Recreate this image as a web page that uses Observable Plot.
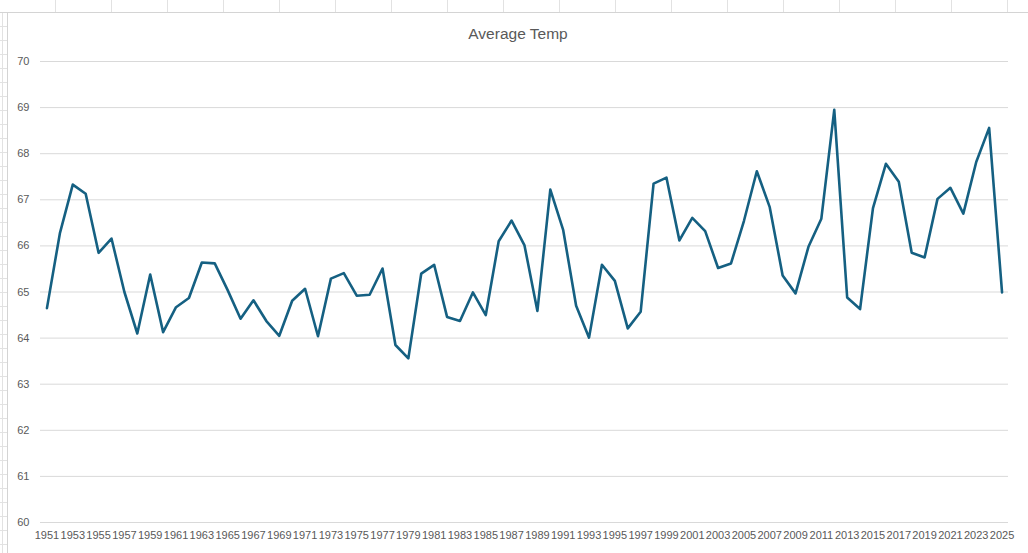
<!DOCTYPE html>
<html>
<head>
<meta charset="utf-8">
<script src="https://cdn.jsdelivr.net/npm/d3@7"></script>
<script src="https://cdn.jsdelivr.net/npm/@observablehq/plot@0.6"></script>
<style>
  html, body { margin: 0; padding: 0; background: #fff; }
  #page { position: relative; width: 1028px; height: 553px; overflow: hidden; background: #fff; }
  #topstrip {
    position: absolute; left: 0; top: 0; width: 1028px; height: 12px;
    border-bottom: 1px solid #d4d4d4;
    background-image: repeating-linear-gradient(to right, transparent 0 55px, #e2e2e2 55px 56px);
  }
  #leftstrip {
    position: absolute; left: 0; top: 13px; width: 7px; height: 540px;
    border-right: 1px solid #d4d4d4;
    background-image: repeating-linear-gradient(to bottom, transparent 0 13px, #e2e2e2 13px 14px),
                      linear-gradient(to right, transparent 0 2px, #e2e2e2 2px 3px, transparent 3px);
  }
  #chart { position: absolute; left: 8px; top: 13px; width: 1020px; height: 540px; background: #fff; }
  #title {
    position: absolute; left: 0; top: 12px; width: 1020px; text-align: center;
    font-family: "Liberation Sans", Arial, sans-serif; font-size: 15.5px; color: #595959;
  }
  #plot { position: absolute; left: 0; top: 0; }
</style>
</head>
<body>
<div id="page">
  <div id="topstrip"></div>
  <div id="leftstrip"></div>
  <div id="chart">
    <div id="plot"></div>
    <div id="title">Average Temp</div>
  </div>
</div>
<script>
const years = d3.range(1951, 2026);
const temps = [
  64.65, 66.27, 67.33, 67.13, 65.85, 66.16, 65.00, 64.10, 65.38, 64.13,
  64.67, 64.87, 65.64, 65.62, 65.04, 64.42, 64.82, 64.37, 64.05, 64.81,
  65.07, 64.04, 65.29, 65.41, 64.92, 64.94, 65.51, 63.85, 63.56, 65.40,
  65.59, 64.46, 64.37, 64.99, 64.50, 66.10, 66.55, 66.01, 64.59, 67.22,
  66.34, 64.70, 64.01, 65.59, 65.24, 64.21, 64.57, 67.35, 67.48, 66.12,
  66.61, 66.32, 65.52, 65.62, 66.54, 67.62, 66.84, 65.36, 64.97, 65.98,
  66.59, 68.95, 64.88, 64.63, 66.82, 67.78, 67.39, 65.85, 65.75, 67.02,
  67.26, 66.70, 67.82, 68.56, 64.99
];
const yTicks = [60, 61, 62, 63, 64, 65, 66, 67, 68, 69, 70];
const xTickYears = years.filter(y => (y - 1951) % 2 === 0);

const data = years.map((year, i) => ({year, temp: temps[i]}));

const chart = Plot.plot({
  width: 1020,
  height: 540,
  marginLeft: 32,
  marginRight: 20,
  marginTop: 48,
  marginBottom: 31,
  style: {
    background: "#fff",
    color: "#595959",
    fontFamily: "'Liberation Sans', Arial, sans-serif",
    fontSize: "11px"
  },
  x: {type: "point", domain: years, padding: 0.5, label: null},
  y: {domain: [60, 70], label: null},
  marks: [
    Plot.gridY(yTicks, {stroke: "#d9d9d9", strokeOpacity: 1, strokeWidth: 1}),
    Plot.axisY(yTicks, {tickSize: 0, tickPadding: 11, label: null, fill: "#595959", fontSize: 11}),
    Plot.axisX(xTickYears, {tickSize: 0, tickPadding: 9, label: null, tickFormat: d => String(d), fill: "#595959", fontSize: 11}),
    Plot.lineY(data, {x: "year", y: "temp", stroke: "#156082", strokeWidth: 2.6, strokeLinejoin: "round", strokeLinecap: "round"})
  ]
});
document.getElementById("plot").appendChild(chart);
</script>
</body>
</html>
